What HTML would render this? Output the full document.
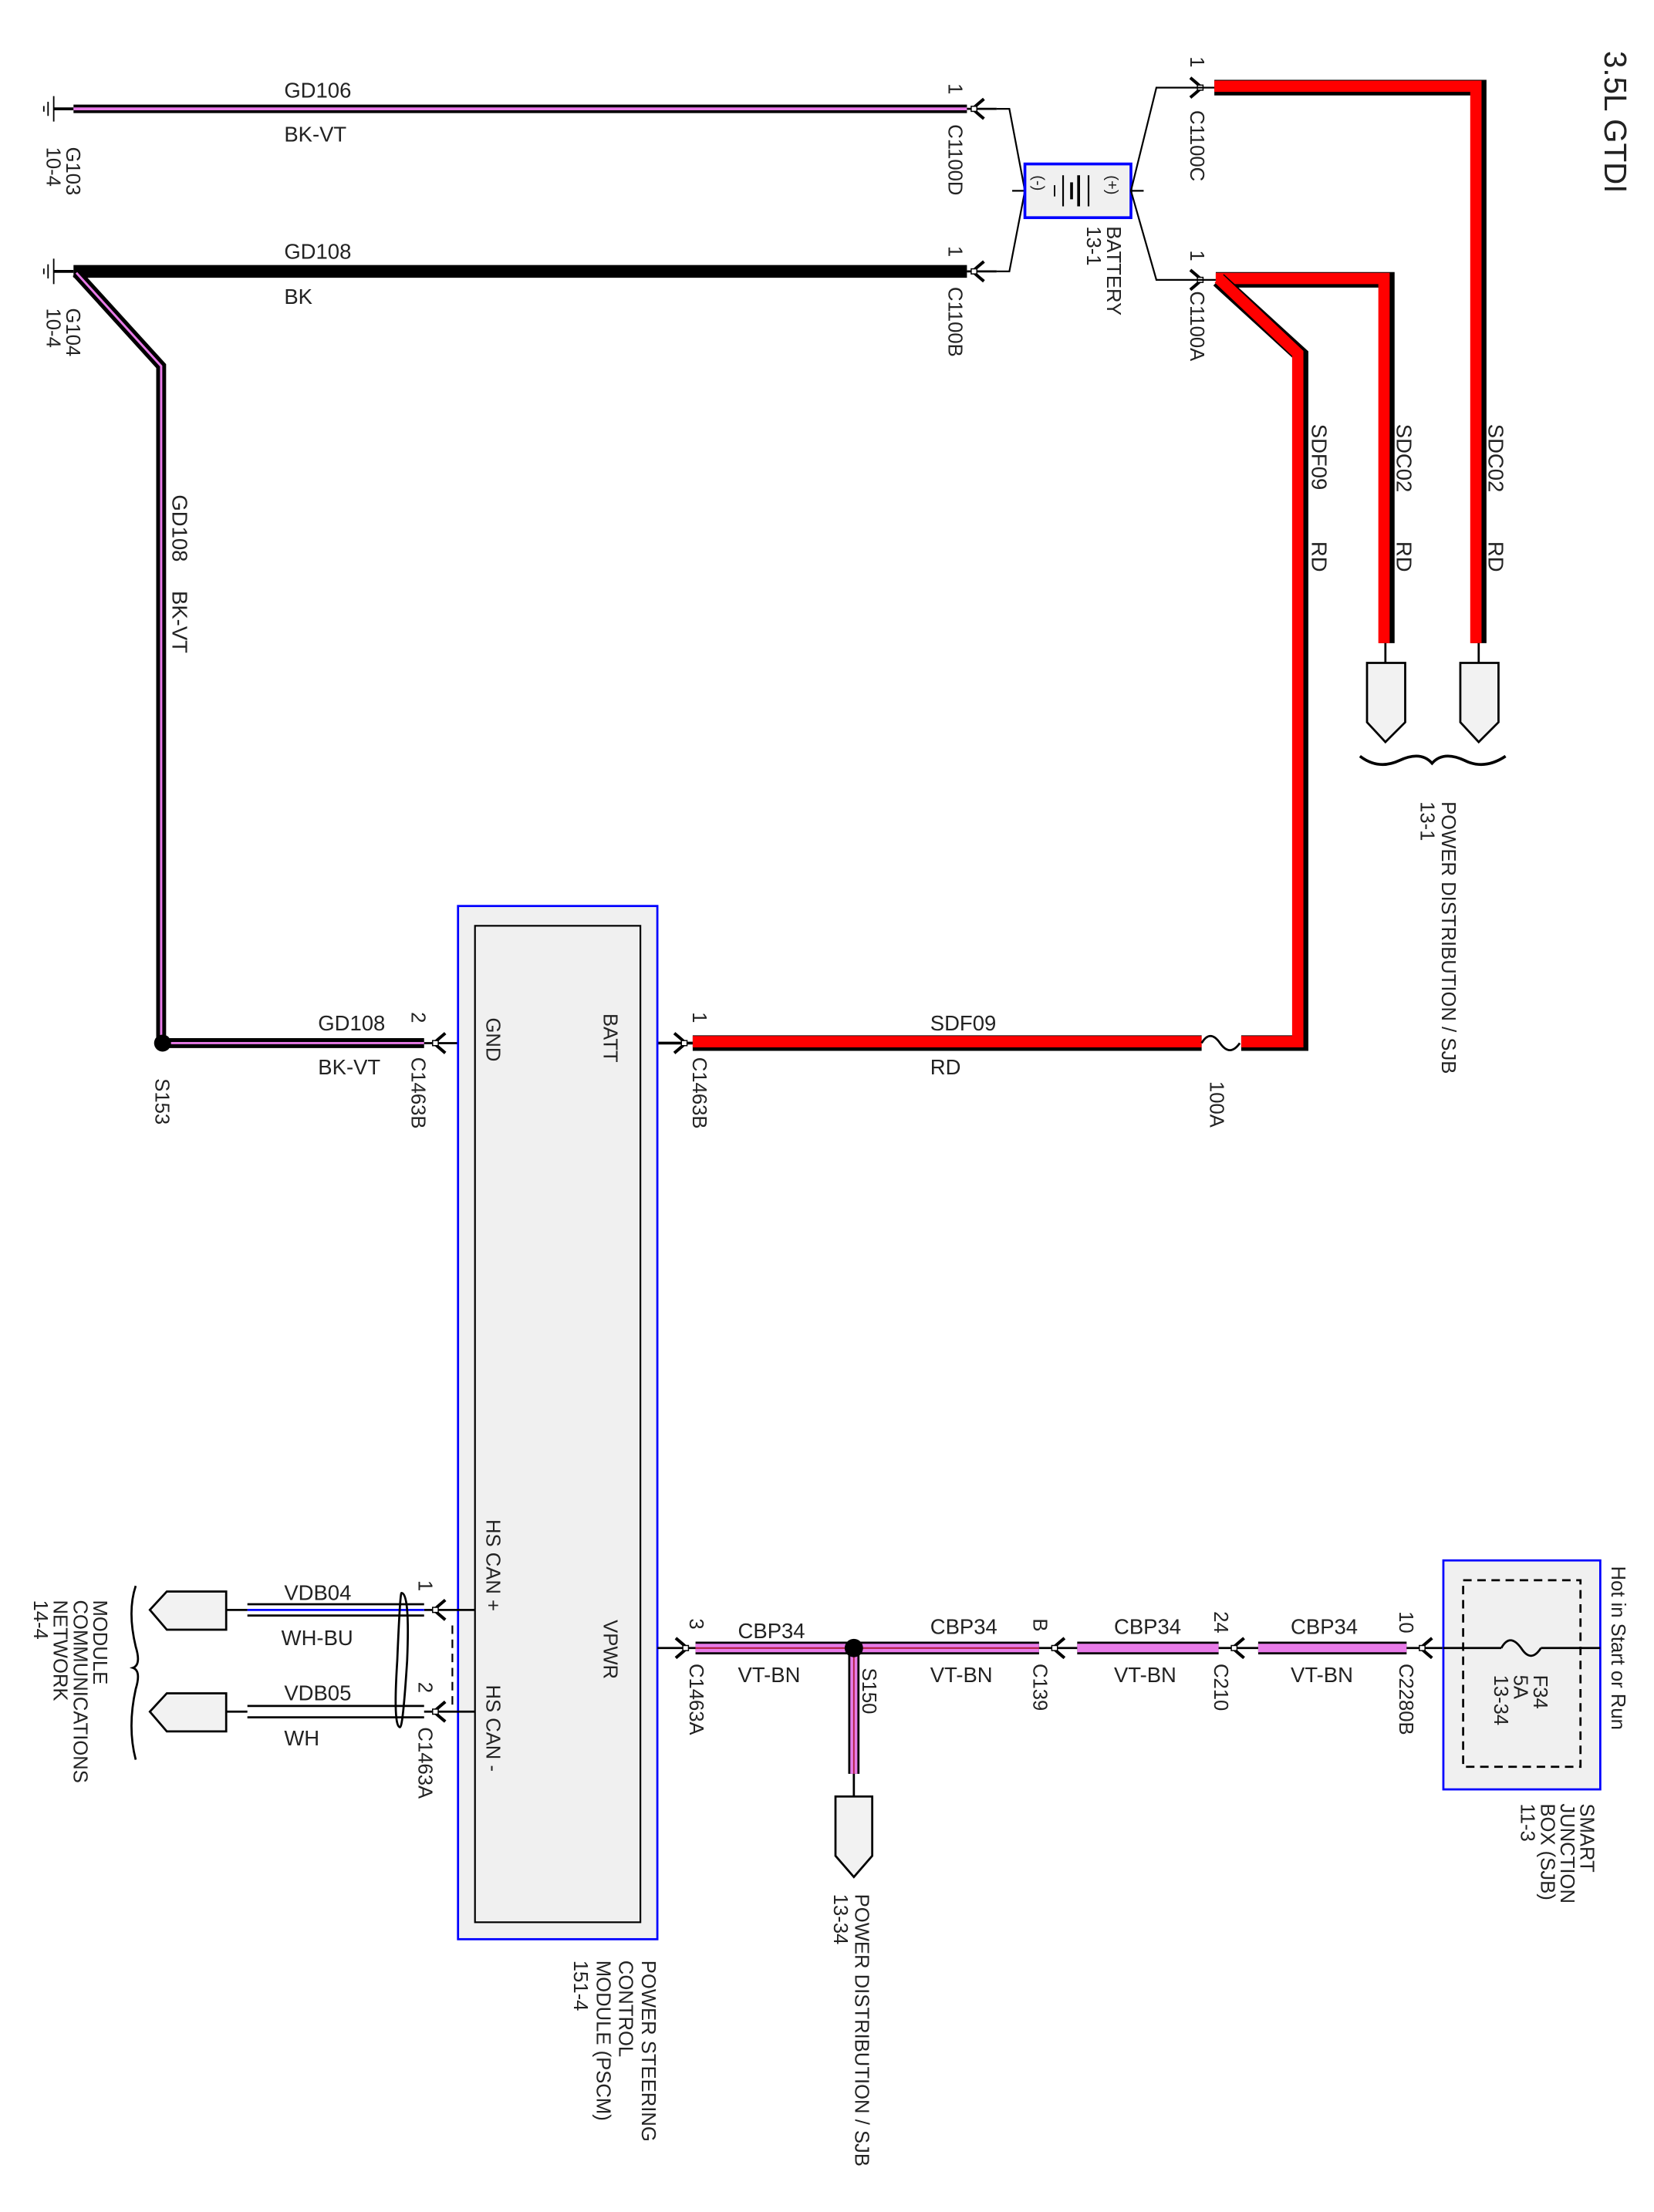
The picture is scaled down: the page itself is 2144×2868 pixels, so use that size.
<!DOCTYPE html>
<html><head><meta charset="utf-8"><style>
html,body{margin:0;padding:0;background:#fff}
svg{display:block}
text{font-family:"Liberation Sans",sans-serif;fill:#222}
.w{font-size:15px}
.r{font-size:14px}
</style></head><body>
<svg width="2144" height="2868" viewBox="0 0 1170 1565" preserveAspectRatio="none" xmlns="http://www.w3.org/2000/svg">
<defs>
<g id="conL"><path d="M8,-7 Q2,-2 0,0 Q2,2 8,7" fill="none" stroke="#000" stroke-width="2.2"/><rect x="-1" y="-1.8" width="4" height="3.6" fill="#fff" stroke="#000" stroke-width="0.8"/></g>
<g id="conR"><path d="M-8,-7 Q-2,-2 0,0 Q-2,2 -8,7" fill="none" stroke="#000" stroke-width="2.2"/><rect x="-3" y="-1.8" width="4" height="3.6" fill="#fff" stroke="#000" stroke-width="0.8"/></g>
</defs>
<rect width="1170" height="1565" fill="#fff"/>

<text transform="translate(1135,36) rotate(90)" style="font-size:22px">3.5L GTDI</text>

<g stroke="#000" stroke-width="1">
<line x1="38" y1="68" x2="38" y2="86"/><line x1="34" y1="72" x2="34" y2="82"/><line x1="31" y1="75" x2="31" y2="79"/>
<line x1="38" y1="77" x2="52" y2="77" stroke-width="2"/>
<line x1="38" y1="183" x2="38" y2="201"/><line x1="34" y1="187" x2="34" y2="197"/><line x1="31" y1="190" x2="31" y2="194"/>
<line x1="38" y1="192" x2="52" y2="192" stroke-width="2"/>
</g>
<text class="r" transform="translate(47,104) rotate(90)">G103</text>
<text class="r" transform="translate(33,104) rotate(90)">10-4</text>
<text class="r" transform="translate(47,218) rotate(90)">G104</text>
<text class="r" transform="translate(33,218) rotate(90)">10-4</text>

<line x1="52" y1="77" x2="684" y2="77" stroke="#000" stroke-width="6"/>
<line x1="52" y1="77" x2="684" y2="77" stroke="#e87be8" stroke-width="2"/>
<line x1="684" y1="77" x2="705" y2="77" stroke="#000" stroke-width="1.5"/>
<use href="#conL" x="688" y="77"/>
<text class="w" x="201" y="69">GD106</text>
<text class="w" x="201" y="100">BK-VT</text>
<text class="r" transform="translate(671,59) rotate(90)">1</text>
<text class="r" transform="translate(671,88) rotate(90)">C1100D</text>

<line x1="52" y1="192" x2="684" y2="192" stroke="#000" stroke-width="9"/>
<line x1="684" y1="192" x2="705" y2="192" stroke="#000" stroke-width="1.5"/>
<use href="#conL" x="688" y="192"/>
<text class="w" x="201" y="183">GD108</text>
<text class="w" x="201" y="215">BK</text>
<text class="r" transform="translate(671,174) rotate(90)">1</text>
<text class="r" transform="translate(671,203) rotate(90)">C1100B</text>

<path d="M54,193 L114,259 L114,738 L300,738" fill="none" stroke="#000" stroke-width="7"/>
<path d="M54,193 L114,259 L114,738 L300,738" fill="none" stroke="#e87be8" stroke-width="1.6"/>
<text class="w" transform="translate(122,350) rotate(90)">GD108</text>
<text class="w" transform="translate(122,418) rotate(90)">BK-VT</text>
<circle cx="115" cy="738" r="6" fill="#000"/>
<text class="r" transform="translate(110,763) rotate(90)">S153</text>
<line x1="300" y1="738" x2="336" y2="738" stroke="#000" stroke-width="1.5"/>
<use href="#conL" x="307" y="738"/>
<text class="w" x="225" y="729">GD108</text>
<text class="w" x="225" y="760">BK-VT</text>
<text class="r" transform="translate(291,716) rotate(90)">2</text>
<text class="r" transform="translate(291,748) rotate(90)">C1463B</text>

<path d="M705,77 L714,77 L725,135 L714,192 L705,192" fill="none" stroke="#000" stroke-width="1.2"/>
<line x1="716" y1="135" x2="725" y2="135" stroke="#000" stroke-width="1.2"/>
<rect x="725" y="116" width="75" height="38" fill="#f0f0f0" stroke="#0000ff" stroke-width="2"/>
<text transform="translate(731,124) rotate(90)" style="font-size:11px">(-)</text>
<text transform="translate(783,124) rotate(90)" style="font-size:11px">(+)</text>
<g stroke="#000"><line x1="752" y1="124" x2="752" y2="146" stroke-width="1.2"/><line x1="758" y1="129" x2="758" y2="141" stroke-width="2"/><line x1="763" y1="124" x2="763" y2="146" stroke-width="2"/><line x1="770" y1="124" x2="770" y2="146" stroke-width="1.2"/><line x1="746" y1="131" x2="746" y2="139" stroke-width="1"/></g>
<path d="M845,62 L818,62 L800,135 L818,198 L845,198" fill="none" stroke="#000" stroke-width="1.2"/>
<line x1="800" y1="135" x2="809" y2="135" stroke="#000" stroke-width="1.2"/>
<text class="r" transform="translate(783,160) rotate(90)">BATTERY</text>
<text class="r" transform="translate(769,160) rotate(90)">13-1</text>

<use href="#conR" x="850" y="62"/>
<line x1="845" y1="62" x2="860" y2="62" stroke="#000" stroke-width="1.2"/>
<text class="r" transform="translate(842,40) rotate(90)">1</text>
<text class="r" transform="translate(842,78) rotate(90)">C1100C</text>
<path d="M859,62 L1046,62 L1046,455" fill="none" stroke="#000" stroke-width="11"/>
<path d="M859,61 L1044,61 L1044,455" fill="none" stroke="#ff0000" stroke-width="8"/>
<use href="#conR" x="850" y="198"/>
<line x1="845" y1="198" x2="860" y2="198" stroke="#000" stroke-width="1.2"/>
<text class="r" transform="translate(842,177) rotate(90)">1</text>
<text class="r" transform="translate(842,206) rotate(90)">C1100A</text>
<path d="M860,198 L981,198 L981,455" fill="none" stroke="#000" stroke-width="11"/>
<path d="M860,197 L979,197 L979,455" fill="none" stroke="#ff0000" stroke-width="8"/>
<path d="M862,198 L920,251 L920,738 L878,738" fill="none" stroke="#000" stroke-width="11"/>
<path d="M862,197 L918,250 L918,737 L878,737" fill="none" stroke="#ff0000" stroke-width="8"/>
<text class="w" transform="translate(1053,300) rotate(90)">SDC02</text>
<text class="w" transform="translate(1053,383) rotate(90)">RD</text>
<text class="w" transform="translate(988,300) rotate(90)">SDC02</text>
<text class="w" transform="translate(988,383) rotate(90)">RD</text>
<text class="w" transform="translate(928,300) rotate(90)">SDF09</text>
<text class="w" transform="translate(928,383) rotate(90)">RD</text>

<g stroke="#000" stroke-width="1.5" fill="#f2f2f2">
<line x1="980" y1="455" x2="980" y2="469"/>
<path d="M967,469 L994,469 L994,511 L980,525 L967,511 Z"/>
<line x1="1046" y1="455" x2="1046" y2="469"/>
<path d="M1033,469 L1060,469 L1060,511 L1046,525 L1033,511 Z"/>
</g>
<path d="M962,535 Q975,545 990,538 Q1005,531 1013,540 Q1021,531 1036,538 Q1050,545 1065,535" fill="none" stroke="#000" stroke-width="2"/>
<text class="r" transform="translate(1020,567) rotate(90)">POWER DISTRIBUTION / SJB</text>
<text class="r" transform="translate(1005,567) rotate(90)">13-1</text>

<line x1="490" y1="738" x2="850" y2="738" stroke="#000" stroke-width="11"/>
<line x1="490" y1="737" x2="850" y2="737" stroke="#ff0000" stroke-width="8"/>
<path d="M850,738 Q856,728 863,738 Q870,748 877,738" fill="none" stroke="#000" stroke-width="1.5"/>
<text class="r" transform="translate(856,765) rotate(90)">100A</text>
<text class="w" x="658" y="729">SDF09</text>
<text class="w" x="658" y="760">RD</text>
<line x1="453" y1="738" x2="490" y2="738" stroke="#000" stroke-width="2"/>
<use href="#conR" x="485" y="738"/>
<text class="r" transform="translate(490,716) rotate(90)">1</text>
<text class="r" transform="translate(490,748) rotate(90)">C1463B</text>

<rect x="324" y="641" width="141" height="731" fill="#f0f0f0" stroke="#0000ff" stroke-width="1.5"/>
<rect x="336" y="655" width="117" height="705" fill="#f0f0f0" stroke="#000" stroke-width="1.2"/>
<text class="r" transform="translate(344,720) rotate(90)">GND</text>
<text class="r" transform="translate(427,717) rotate(90)">BATT</text>
<text class="r" transform="translate(344,1075) rotate(90)">HS CAN +</text>
<text class="r" transform="translate(344,1192) rotate(90)">HS CAN -</text>
<text class="r" transform="translate(427,1146) rotate(90)">VPWR</text>
<text class="r" transform="translate(454,1387) rotate(90)">POWER STEERING</text>
<text class="r" transform="translate(438,1387) rotate(90)">CONTROL</text>
<text class="r" transform="translate(422,1387) rotate(90)">MODULE (PSCM)</text>
<text class="r" transform="translate(406,1387) rotate(90)">151-4</text>

<line x1="300" y1="1139" x2="336" y2="1139" stroke="#000" stroke-width="1.5"/>
<line x1="300" y1="1211" x2="336" y2="1211" stroke="#000" stroke-width="1.5"/>
<use href="#conL" x="307" y="1139"/>
<use href="#conL" x="307" y="1211"/>
<line x1="320" y1="1150" x2="320" y2="1206" stroke="#000" stroke-width="1.2" stroke-dasharray="6,4"/>
<g stroke="#000" stroke-width="1.5">
<line x1="175" y1="1135" x2="300" y2="1135"/><line x1="175" y1="1143" x2="300" y2="1143"/>
<line x1="175" y1="1207" x2="300" y2="1207"/><line x1="175" y1="1215" x2="300" y2="1215"/>
</g>
<line x1="175" y1="1139" x2="300" y2="1139" stroke="#0000ff" stroke-width="1.5"/>
<line x1="160" y1="1139" x2="175" y2="1139" stroke="#000" stroke-width="1.5"/>
<line x1="160" y1="1211" x2="175" y2="1211" stroke="#000" stroke-width="1.5"/>
<path d="M284,1127 Q290,1127 288,1175 Q285,1222 283,1222 Q278,1222 281,1175 Q283,1127 284,1127" fill="none" stroke="#000" stroke-width="1.5"/>
<text class="w" x="201" y="1132">VDB04</text>
<text class="w" x="199" y="1164">WH-BU</text>
<text class="w" x="201" y="1203">VDB05</text>
<text class="w" x="201" y="1235">WH</text>
<text class="r" transform="translate(296,1118) rotate(90)">1</text>
<text class="r" transform="translate(296,1190) rotate(90)">2</text>
<text class="r" transform="translate(296,1222) rotate(90)">C1463A</text>
<g stroke="#000" stroke-width="1.5" fill="#f2f2f2">
<path d="M160,1126 L160,1153 L118,1153 L106,1139 L118,1126 Z"/>
<path d="M160,1198 L160,1225 L118,1225 L106,1211 L118,1198 Z"/>
</g>
<path d="M96,1122 Q90,1140 96,1165 Q100,1178 94,1180 Q100,1182 96,1195 Q90,1222 96,1245" fill="none" stroke="#000" stroke-width="1.5"/>
<text class="r" transform="translate(66,1132) rotate(90)">MODULE</text>
<text class="r" transform="translate(52,1132) rotate(90)">COMMUNICATIONS</text>
<text class="r" transform="translate(38,1132) rotate(90)">NETWORK</text>
<text class="r" transform="translate(24,1132) rotate(90)">14-4</text>

<line x1="465" y1="1166" x2="492" y2="1166" stroke="#000" stroke-width="1.5"/>
<use href="#conR" x="486" y="1166"/>
<g>
<line x1="492" y1="1166" x2="735" y2="1166" stroke="#000" stroke-width="9"/>
<line x1="492" y1="1166" x2="735" y2="1166" stroke="#e87be8" stroke-width="6"/>
<line x1="492" y1="1166" x2="735" y2="1166" stroke="#b02040" stroke-width="1.2"/>
<line x1="762" y1="1166" x2="862" y2="1166" stroke="#000" stroke-width="9"/>
<line x1="762" y1="1166" x2="862" y2="1166" stroke="#e87be8" stroke-width="6"/>
<line x1="890" y1="1166" x2="995" y2="1166" stroke="#000" stroke-width="9"/>
<line x1="890" y1="1166" x2="995" y2="1166" stroke="#e87be8" stroke-width="6"/>
<line x1="604" y1="1166" x2="604" y2="1255" stroke="#000" stroke-width="8"/>
<line x1="604" y1="1166" x2="604" y2="1255" stroke="#e87be8" stroke-width="5"/>
<line x1="604" y1="1166" x2="604" y2="1255" stroke="#b02040" stroke-width="1"/>
</g>
<line x1="735" y1="1166" x2="762" y2="1166" stroke="#000" stroke-width="1.5"/>
<line x1="862" y1="1166" x2="890" y2="1166" stroke="#000" stroke-width="1.5"/>
<line x1="995" y1="1166" x2="1132" y2="1166" stroke="#000" stroke-width="1.5"/>
<use href="#conL" x="745" y="1166"/>
<use href="#conL" x="872" y="1166"/>
<use href="#conL" x="1005" y="1166"/>
<circle cx="604" cy="1166" r="6.5" fill="#000"/>
<text class="r" transform="translate(610,1180) rotate(90)">S150</text>
<text class="w" x="522" y="1159">CBP34</text>
<text class="w" x="522" y="1190">VT-BN</text>
<text class="w" x="658" y="1156">CBP34</text>
<text class="w" x="658" y="1190">VT-BN</text>
<text class="w" x="788" y="1156">CBP34</text>
<text class="w" x="788" y="1190">VT-BN</text>
<text class="w" x="913" y="1156">CBP34</text>
<text class="w" x="913" y="1190">VT-BN</text>
<text class="r" transform="translate(488,1145) rotate(90)">3</text>
<text class="r" transform="translate(488,1177) rotate(90)">C1463A</text>
<text class="r" transform="translate(731,1145) rotate(90)">B</text>
<text class="r" transform="translate(731,1177) rotate(90)">C139</text>
<text class="r" transform="translate(859,1140) rotate(90)">24</text>
<text class="r" transform="translate(859,1177) rotate(90)">C210</text>
<text class="r" transform="translate(990,1140) rotate(90)">10</text>
<text class="r" transform="translate(990,1177) rotate(90)">C2280B</text>

<g stroke="#000" stroke-width="1.5" fill="#f2f2f2">
<line x1="604" y1="1255" x2="604" y2="1271"/>
<path d="M591,1271 L617,1271 L617,1313 L604,1328 L591,1313 Z"/>
</g>
<text class="r" transform="translate(605,1340) rotate(90)">POWER DISTRIBUTION / SJB</text>
<text class="r" transform="translate(590,1340) rotate(90)">13-34</text>

<rect x="1021" y="1104" width="111" height="162" fill="#f0f0f0" stroke="#0000ff" stroke-width="1.5"/>
<rect x="1035" y="1118" width="83" height="132" fill="none" stroke="#000" stroke-width="1.5" stroke-dasharray="6,4"/>
<line x1="1021" y1="1166" x2="1132" y2="1166" stroke="#000" stroke-width="1.5"/>
<rect x="1062" y="1158" width="28" height="16" fill="#f0f0f0"/>
<path d="M1062,1166 Q1068,1155 1076,1166 Q1083,1177 1090,1166" fill="none" stroke="#000" stroke-width="1.5"/>
<text class="r" transform="translate(1085,1185) rotate(90)">F34</text>
<text class="r" transform="translate(1071,1185) rotate(90)">5A</text>
<text class="r" transform="translate(1057,1185) rotate(90)">13-34</text>
<text class="r" transform="translate(1140,1108) rotate(90)">Hot in Start or Run</text>
<text class="r" transform="translate(1118,1276) rotate(90)">SMART</text>
<text class="r" transform="translate(1104,1276) rotate(90)">JUNCTION</text>
<text class="r" transform="translate(1090,1276) rotate(90)">BOX (SJB)</text>
<text class="r" transform="translate(1076,1276) rotate(90)">11-3</text>
</svg>
</body></html>
